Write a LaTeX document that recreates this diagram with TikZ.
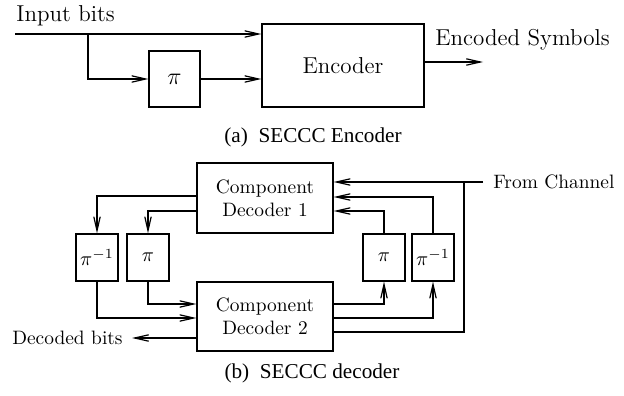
\documentclass[tikz,border=0pt]{standalone}
\usepackage{fontspec}
\newfontfamily\capfont{Liberation Serif}
\usetikzlibrary{arrows.meta, positioning}

\newcommand{\topfont}{\fontsize{11.5}{14}\selectfont}
\newcommand{\decfont}{\fontsize{9.7}{11.6}\selectfont}
\newcommand{\subcapfont}{\capfont\fontsize{10.6}{12}\selectfont}

\tikzset{
  blk/.style={draw, line width=0.6pt, inner sep=0pt, align=center},
  smallblk/.style={blk, minimum width=21pt, minimum height=23.5pt},
  lbl/.style={inner sep=0pt},
  sig/.style={line width=0.6pt, -{Straight Barb[length=7pt,width=3.2pt]}},
  wire/.style={line width=0.6pt}
}

\begin{document}
\begin{tikzpicture}[x=0.5pt, y=-0.5pt]
  \useasboundingbox (0,0) rectangle (624,395);
  % Encoder
  \begin{scope}[font=\topfont]
    \node[lbl, anchor=base west] (inbits) at (16,22) {Input bits};
    \node[blk, minimum width=81pt, minimum height=41.5pt] (enc) at (343,65.5) {Encoder};
    \node[blk, minimum width=25.5pt, minimum height=28pt] (pienc) at (174.5,79) {$\pi$};
    \node[lbl, anchor=base west] (encsym) at (435,46) {Encoded Symbols};
    \coordinate (in) at (15,34);
    \coordinate (split) at (88,34);
    \coordinate (encout) at (483,62);
    \draw[sig] (in) -- (enc.west |- in);
    \draw[sig] (split) |- (pienc.west);
    \draw[sig] (pienc.east) -- (enc.west |- pienc.east);
    \draw[sig] (enc.east |- encout) -- (encout);
  \end{scope}
  \node[font=\subcapfont] (capa) at (313,137) {(a)\ \ SECCC Encoder};
  % Decoder
  \begin{scope}[font=\decfont]
    \node[blk, minimum width=68pt, minimum height=35pt] (dec1) at (265,198) {Component\\Decoder 1};
    \node[blk, minimum width=68pt, minimum height=34.5pt] (dec2) at (265,316.5) {Component\\Decoder 2};
    \node[smallblk] (pinvl) at (97,257.5) {$\pi^{-1}$};
    \node[smallblk] (pil) at (148,257.5) {$\pi$};
    \node[smallblk] (pir) at (384,257.5) {$\pi$};
    \node[smallblk] (pinvr) at (433,257.5) {$\pi^{-1}$};
    \node[lbl, anchor=west, inner xsep=5pt] (chan) at (483,182) {From Channel};
    \node[lbl, anchor=east, inner xsep=4.5pt] (decbits) at (132,338) {Decoded bits};
    \coordinate (tap) at (464,182);
    % decoder 1 -> left interleavers -> decoder 2
    \draw[sig] (dec1.west |- 0,196) -| (pinvl.north);
    \draw[sig] (dec1.west |- 0,211) -| (pil.north);
    \draw[sig] (pinvl.south) |- (dec2.west |- 0,318);
    \draw[sig] (pil.south) |- (dec2.west |- 0,304);
    \draw[sig] (dec2.west |- decbits) -- (decbits.east);
    % decoder 2 -> right interleavers -> decoder 1
    \draw[sig] (dec2.east |- 0,304) -| (pir.south);
    \draw[sig] (dec2.east |- 0,318) -| (pinvr.south);
    \draw[sig] (pir.north) |- (dec1.east |- 0,211);
    \draw[sig] (pinvr.north) |- (dec1.east |- 0,197);
    \draw[sig] (chan.west) -- (dec1.east |- chan.west);
    \draw[wire] (tap) |- (dec2.east |- 0,332);
  \end{scope}
  \node[font=\subcapfont] (capb) at (312,373) {(b)\ \ SECCC decoder};
\end{tikzpicture}
\end{document}
